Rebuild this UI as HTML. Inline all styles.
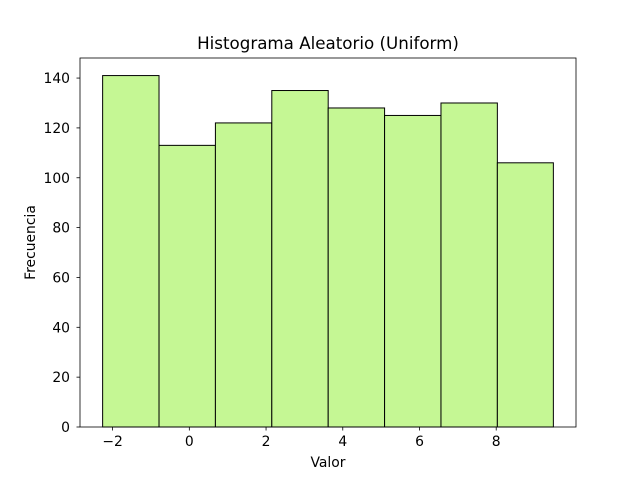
<!DOCTYPE html>
<html><head><meta charset="utf-8"><style>
body{margin:0;background:#fff}
text{font-family:"DejaVu Sans","Liberation Sans",sans-serif;fill:#000}
</style></head><body>
<svg id="chart" width="640" height="480">
<rect width="640" height="480" fill="#fff"/>
<text x="328" y="49" font-size="16.7" text-anchor="middle">Histograma Aleatorio (Uniform)</text>
<text x="328" y="467" font-size="13.9" text-anchor="middle">Valor</text>
<text transform="translate(35,242.5) rotate(-90)" font-size="13.9" text-anchor="middle">Frecuencia</text>
<g id="bars"></g><g id="ticks"></g>
<rect x="80" y="58" width="496" height="369" fill="none" stroke="#000" stroke-width="0.8"/>
</svg>
<script>
const binEdges=[-2.26,-0.79,0.68,2.15,3.62,5.09,6.56,8.03,9.49];
const counts=[141,113,122,135,128,125,130,106];
const xTicks=[-2,0,2,4,6,8];
const yTicks=[0,20,40,60,80,100,120,140];
const xMin=-2.85,xMax=10.08,yMin=0,yMax=148.05;
const L=80,R=576,T=58,B=427;
const sx=v=>L+(v-xMin)/(xMax-xMin)*(R-L);
const sy=v=>B-(v-yMin)/(yMax-yMin)*(B-T);
const NS="http://www.w3.org/2000/svg";
const bars=document.getElementById('bars'),ticks=document.getElementById('ticks');
counts.forEach((c,i)=>{
  const r=document.createElementNS(NS,'rect');
  r.setAttribute('x',sx(binEdges[i]));r.setAttribute('y',sy(c));
  r.setAttribute('width',sx(binEdges[i+1])-sx(binEdges[i]));r.setAttribute('height',sy(0)-sy(c));
  r.setAttribute('fill','#c5f794');r.setAttribute('stroke','#000');r.setAttribute('stroke-width','1');
  
  
  bars.appendChild(r);
});
xTicks.forEach(t=>{
  const x=sx(t);
  const l=document.createElementNS(NS,'line');
  l.setAttribute('x1',x);l.setAttribute('x2',x);l.setAttribute('y1',B);l.setAttribute('y2',B+3.5);l.setAttribute('stroke','#000');l.setAttribute('stroke-width','0.8');
  
  
  ticks.appendChild(l);
  const tx=document.createElementNS(NS,'text');
  tx.setAttribute('x',x);tx.setAttribute('y',B+19);tx.setAttribute('font-size','13.9');tx.setAttribute('text-anchor','middle');
  tx.textContent=t<0?'\u2212'+(-t):t;
  
  
  ticks.appendChild(tx);
});
yTicks.forEach(t=>{
  const y=sy(t);
  const l=document.createElementNS(NS,'line');
  l.setAttribute('x1',L-3.5);l.setAttribute('x2',L);l.setAttribute('y1',y);l.setAttribute('y2',y);l.setAttribute('stroke','#000');l.setAttribute('stroke-width','0.8');
  
  
  ticks.appendChild(l);
  const tx=document.createElementNS(NS,'text');
  tx.setAttribute('x',L-10);tx.setAttribute('y',y+5);tx.setAttribute('font-size','13.9');tx.setAttribute('text-anchor','end');
  tx.textContent=t;
  
  
  ticks.appendChild(tx);
});
</script>
</body></html>
